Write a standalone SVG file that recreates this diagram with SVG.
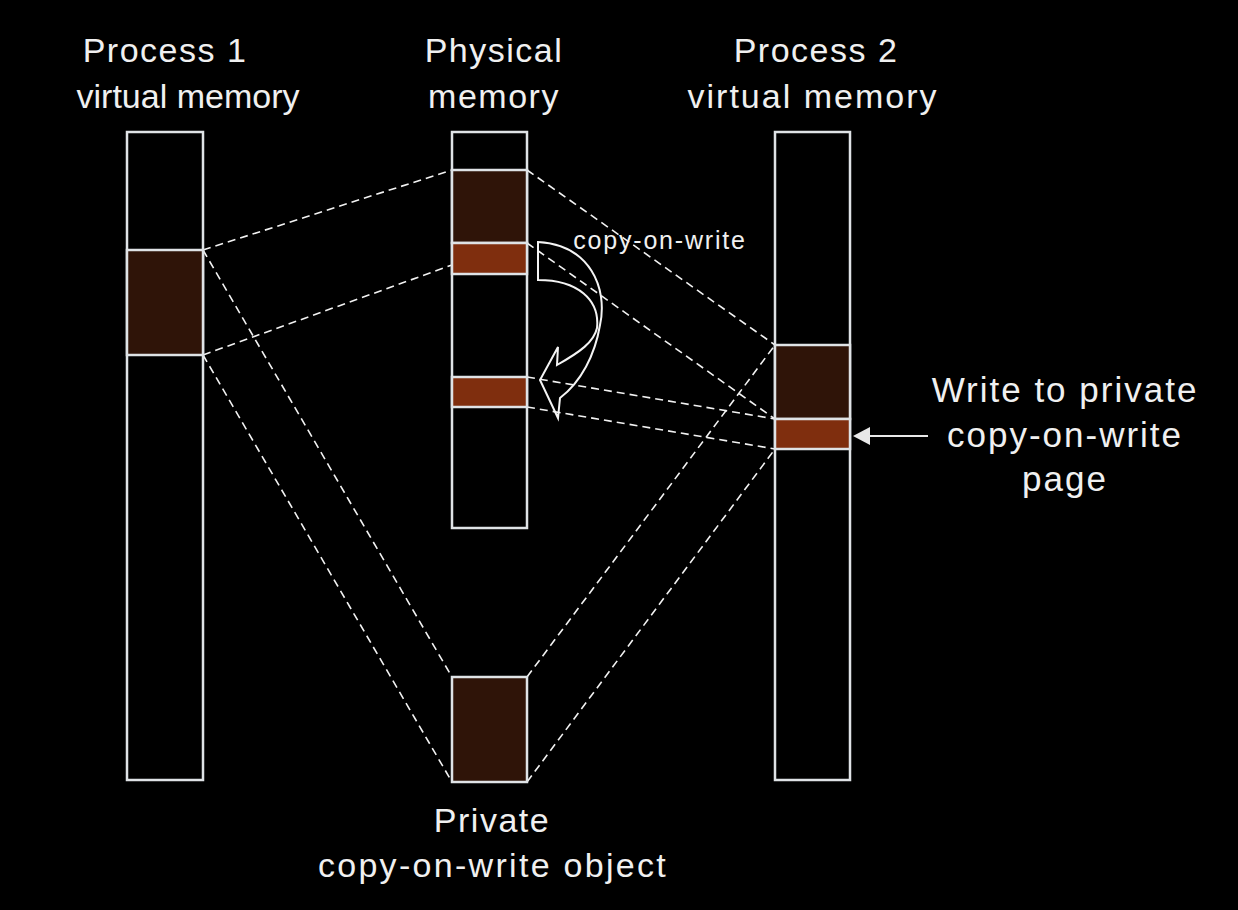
<svg xmlns="http://www.w3.org/2000/svg" width="1238" height="910" viewBox="0 0 1238 910">
<style>
.col{fill:none;stroke:#dfe3e6;stroke-width:2.5}
.dark{fill:#2f1408;stroke:#dfe3e6;stroke-width:2.5}
.bright{fill:#7f2e0e;stroke:#dfe3e6;stroke-width:2.5}
.dash{stroke:#f2f2f2;stroke-width:1.6;stroke-dasharray:8 5;fill:none}
.t{font-family:"Liberation Sans",Arial,sans-serif;fill:#f0f0f0;text-anchor:middle}
.big{font-size:34px;letter-spacing:1.5px}
.vm{font-size:34px;letter-spacing:0px}
.vm2{font-size:34px;letter-spacing:2px}
.obj{font-size:34px;letter-spacing:2.3px}
.lab{font-size:35px;letter-spacing:2px}
.small{font-size:25px;letter-spacing:1.8px}
</style>
<rect x="0" y="0" width="1238" height="910" fill="#000"/>
<g id="connectors">
<line class="dash" x1="203" y1="250" x2="452" y2="170"/>
<line class="dash" x1="203" y1="355" x2="452" y2="265"/>
<line class="dash" x1="203" y1="250" x2="452" y2="677"/>
<line class="dash" x1="203" y1="355" x2="452" y2="782"/>
<line class="dash" x1="527" y1="170" x2="775" y2="345"/>
<line class="dash" x1="527" y1="243" x2="775" y2="419"/>
<line class="dash" x1="527" y1="377" x2="775" y2="419"/>
<line class="dash" x1="527" y1="407" x2="775" y2="449"/>
<line class="dash" x1="527" y1="677" x2="775" y2="345"/>
<line class="dash" x1="527" y1="782" x2="775" y2="449"/>
</g>
<g id="process1">
<rect class="col" x="127" y="132" width="76" height="648"/>
<rect class="dark" x="127" y="250" width="76" height="105"/>
<text class="t big" x="165" y="62">Process 1</text>
<text class="t vm" x="188" y="108">virtual memory</text>
</g>
<g id="physical">
<rect class="col" x="452" y="132" width="75" height="396"/>
<rect class="dark" x="452" y="170" width="75" height="73"/>
<rect class="bright" x="452" y="243" width="75" height="31"/>
<rect class="bright" x="452" y="377" width="75" height="30"/>
<text class="t big" x="494" y="62">Physical</text>
<text class="t big" x="494" y="108">memory</text>
</g>
<g id="process2">
<rect class="col" x="775" y="132" width="75" height="648"/>
<rect class="dark" x="775" y="345" width="75" height="74"/>
<rect class="bright" x="775" y="419" width="75" height="30"/>
<text class="t big" x="816" y="62">Process 2</text>
<text class="t vm2" x="813" y="108">virtual memory</text>
</g>
<g id="private-object">
<rect class="dark" x="452" y="677" width="75" height="105"/>
<text class="t big" x="492" y="832">Private</text>
<text class="t obj" x="493" y="877">copy-on-write object</text>
</g>
<g id="cow-arrow">
<path d="M538,242 C590,245 608,288 600,325 C595,355 581,382 560,398 L558,418 L540,380 L558,347 L557,365 C580,352 594,342 597,328 C600,300 578,280 538,280 Z" fill="none" stroke="#f4f4f4" stroke-width="2" stroke-linejoin="miter"/>
<text class="t small" x="660" y="249">copy-on-write</text>
</g>
<g id="write-label">
<line x1="928" y1="436" x2="866" y2="436" stroke="#e8e8e8" stroke-width="2"/>
<polygon points="853,436 870,427 870,445" fill="#e8e8e8"/>
<text class="t lab" x="1065" y="402">Write to private</text>
<text class="t lab" x="1065" y="447">copy-on-write</text>
<text class="t lab" x="1065" y="491">page</text>
</g>
</svg>
